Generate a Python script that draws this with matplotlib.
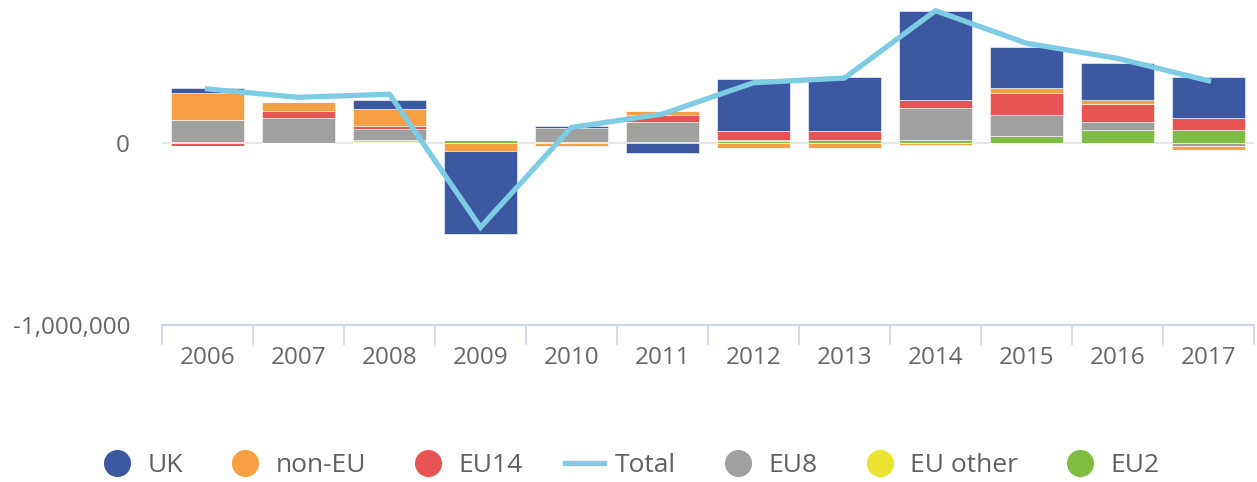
import numpy as np
import matplotlib
matplotlib.use("Agg")
import matplotlib.pyplot as plt
from matplotlib.lines import Line2D

plt.rcParams['font.family'] = ['Open Sans', 'DejaVu Sans']

years = ['2006', '2007', '2008', '2009', '2010', '2011',
         '2012', '2013', '2014', '2015', '2016', '2017']

# net change per group
uk = [24000, 0, 49000, -454000, 9000, -55000, 284000, 297000, 484000, 224000, 198000, 224000]
non_eu = [150000, 49000, 97000, -45000, -17000, 24000, -29000, -30000, -12000, 25000, 24000, -22000]
eu14 = [-14000, 37000, 13000, 0, 0, 35000, 49000, 49000, 48000, 121000, 97000, 70000]
eu8 = [121000, 140000, 60000, 0, 77000, 110000, 8000, 0, 172000, 114000, 49000, -19000]
eu_other = [0, 0, 11000, 0, 0, 0, 0, 0, 0, 0, 0, 0]
eu2 = [6000, 0, 8000, 18000, 7000, 8000, 10000, 18000, 19000, 41000, 69000, 69000]
total = [297000, 251000, 268000, -463000, 86000, 159000, 331000, 357000, 727000, 548000, 465000, 342000]

colors = {
    'UK': '#3c58a0',
    'non-EU': '#f7a043',
    'EU14': '#e85454',
    'Total': '#7ecbe4',
    'EU8': '#a0a09f',
    'EU other': '#ebe330',
    'EU2': '#7fbd42',
}

# stacked outwards from zero (EU2 sits closest to the axis)
stack = [('EU2', eu2), ('EU other', eu_other), ('EU8', eu8),
         ('EU14', eu14), ('non-EU', non_eu), ('UK', uk)]

W, H = 1257, 482
fig = plt.figure(figsize=(W / 100, H / 100), dpi=100)
ax = fig.add_axes([162 / W, (H - 325) / H, (1254 - 162) / W, 325 / H])

x = np.arange(len(years))
pos_base = np.zeros(len(years))
neg_base = np.zeros(len(years))
for name, vals in stack:
    vals = np.array(vals, dtype=float)
    p = np.where(vals > 0, vals, 0)
    n = np.where(vals < 0, vals, 0)
    ax.bar(x, p, 0.8, bottom=pos_base, color=colors[name],
           edgecolor='white', linewidth=0.4, zorder=2)
    ax.bar(x, n, 0.8, bottom=neg_base, color=colors[name],
           edgecolor='white', linewidth=0.4, zorder=2)
    pos_base += p
    neg_base += n

ax.plot(x, total, color=colors['Total'], linewidth=3.8, zorder=3,
        solid_joinstyle='miter')

ax.set_xlim(-0.5, len(years) - 0.5)
ax.set_ylim(-1000000, 143 * 1000000 / 182)

ax.set_yticks([-1000000, 0])
ax.set_yticklabels(['-1,000,000', '0'])
ax.yaxis.grid(True, color='#e6e6e6', linewidth=1.6, zorder=0)
ax.set_axisbelow(True)

ax.set_xticks(x)
ax.set_xticklabels(years)
ax.set_xticks(np.arange(-0.5, len(years)), minor=True)
ax.tick_params(axis='x', which='major', length=0, pad=15, labelsize=17.5, labelcolor='#666666')
ax.tick_params(axis='x', which='minor', length=14.5, width=1.2, color='#ccd6eb', direction='out')
ax.tick_params(axis='y', length=0, pad=23, labelsize=17.5, labelcolor='#666666')

for s in ['top', 'right', 'left']:
    ax.spines[s].set_visible(False)
ax.spines['bottom'].set_color('#ccd6eb')
ax.spines['bottom'].set_linewidth(1.6)

labels = ['UK', 'non-EU', 'EU14', 'Total', 'EU8', 'EU other', 'EU2']
handles = []
for name in labels:
    if name == 'Total':
        h = Line2D([], [], color=colors[name], linewidth=3.8)
    else:
        h = Line2D([], [], color=colors[name], marker='o', linestyle='none',
                   markersize=19.5, markeredgewidth=0)
    handles.append(h)
fig.legend(handles, labels, loc='center', bbox_to_anchor=(0.5, (H - 466) / H),
           ncol=7, frameon=False, fontsize=19, labelcolor='#606060',
           handlelength=1.5, handletextpad=0.4, columnspacing=1.6)

fig.savefig('out.png', dpi=100)
